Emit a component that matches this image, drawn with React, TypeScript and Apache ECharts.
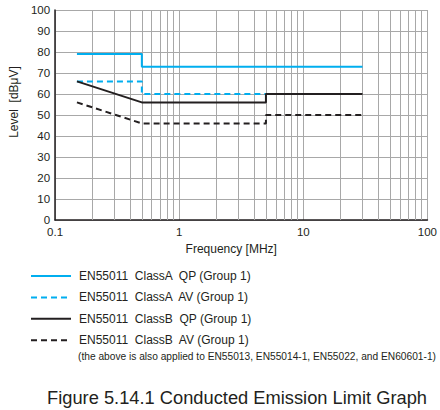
import React, { useEffect, useRef } from "react";
import * as echarts from "echarts";

const freqA = [0.15, 0.5, 0.5, 30];
const classAQP = [79, 79, 73, 73];
const classAAV = [66, 66, 60, 60];
const freqB = [0.15, 0.5, 5, 5, 30];
const classBQP = [66, 56, 56, 60, 60];
const classBAV = [56, 46, 46, 50, 50];
const minorGridFreqs = [
  0.2, 0.3, 0.4, 0.5, 0.6, 0.7, 0.8, 0.9,
  2, 3, 4, 5, 6, 7, 8, 9,
  20, 30, 40, 50, 60, 70, 80, 90,
];
const seriesNames = [
  "EN55011  ClassA  QP (Group 1)",
  "EN55011  ClassA  AV (Group 1)",
  "EN55011  ClassB  QP (Group 1)",
  "EN55011  ClassB  AV (Group 1)",
];
const noteText =
  "(the above is also applied to EN55013, EN55014-1, EN55022, and EN60601-1)";
const titleText = "Figure 5.14.1 Conducted Emission Limit Graph";

const CYAN = "#00aeef";
const BLACK = "#231f20";
const FONT = "Liberation Sans, Arial, Helvetica, sans-serif";

const pair = (xs: number[], ys: number[]) => xs.map((x, i) => [x, ys[i]]);

export default function App() {
  const ref = useRef<HTMLDivElement>(null);
  useEffect(() => {
    document.body.style.margin = "0";
    const chart = echarts.init(ref.current!, null, { renderer: "svg" });
    const lineSeries = (name: string, data: number[][], color: string, dashed: boolean) => ({
      name,
      type: "line",
      data,
      symbol: "circle",
      showSymbol: false,
      z: 10,
      lineStyle: { color, width: 2, type: dashed ? [6, 4] : "solid" },
      itemStyle: { color: "rgba(0,0,0,0)" },
    });
    chart.setOption({
      animation: false,
      textStyle: { fontFamily: FONT },
      grid: { left: 42, right: 10, top: 10, height: 210 },
      xAxis: {
        type: "log",
        logBase: 10,
        min: 0.1,
        max: 100,
        name: "Frequency [MHz]",
        nameLocation: "middle",
        nameGap: 17,
        nameTextStyle: { color: BLACK, fontSize: 12, padding: [0, 20, 0, 0] },
        axisLine: { lineStyle: { color: BLACK, width: 1.5 } },
        axisTick: { show: false },
        axisLabel: {
          color: BLACK,
          fontSize: 11.5,
          margin: 6,
          formatter: (v: number) => String(v),
        },
        splitLine: { show: true, lineStyle: { color: "#a8a8a8", width: 1 } },
      },
      yAxis: {
        type: "value",
        min: 0,
        max: 100,
        interval: 10,
        name: "Level  [dBμV]",
        nameLocation: "middle",
        nameGap: 32,
        nameTextStyle: { color: BLACK, fontSize: 12, padding: [0, 0, 0, 26] },
        axisLine: { show: true, lineStyle: { color: BLACK, width: 1.5 } },
        axisTick: { show: false },
        axisLabel: { color: BLACK, fontSize: 11.5, margin: 5 },
        splitLine: { show: true, lineStyle: { color: "#a8a8a8", width: 1 } },
      },
      legend: {
        orient: "vertical",
        left: 30,
        top: 270,
        padding: 0,
        itemWidth: 40,
        itemHeight: 14,
        itemGap: 9.4,
        selectedMode: false,
        itemStyle: { opacity: 0 },
        textStyle: { color: BLACK, fontSize: 12, padding: [0, 0, 0, 3] },
        data: seriesNames,
      },
      graphic: [
        {
          type: "text",
          left: 78,
          top: 351,
          style: { text: noteText, fill: BLACK, fontSize: 10.2, fontFamily: FONT },
        },
        {
          type: "text",
          left: 47,
          top: 388,
          style: { text: titleText, fill: BLACK, fontSize: 18.3, fontFamily: FONT },
        },
      ],
      series: [
        {
          type: "line",
          data: [],
          silent: true,
          z: 1,
          markLine: {
            silent: true,
            symbol: "none",
            z: 1,
            label: { show: false },
            lineStyle: { color: "#a8a8a8", width: 1, type: "solid" },
            data: minorGridFreqs.map((f) => ({ xAxis: f })),
          },
        },
        lineSeries(seriesNames[0], pair(freqA, classAQP), CYAN, false),
        lineSeries(seriesNames[1], pair(freqA, classAAV), CYAN, true),
        lineSeries(seriesNames[2], pair(freqB, classBQP), BLACK, false),
        lineSeries(seriesNames[3], pair(freqB, classBAV), BLACK, true),
      ],
    });
    return () => chart.dispose();
  }, []);
  return <div ref={ref} style={{ width: 440, height: 410 }} />;
}
